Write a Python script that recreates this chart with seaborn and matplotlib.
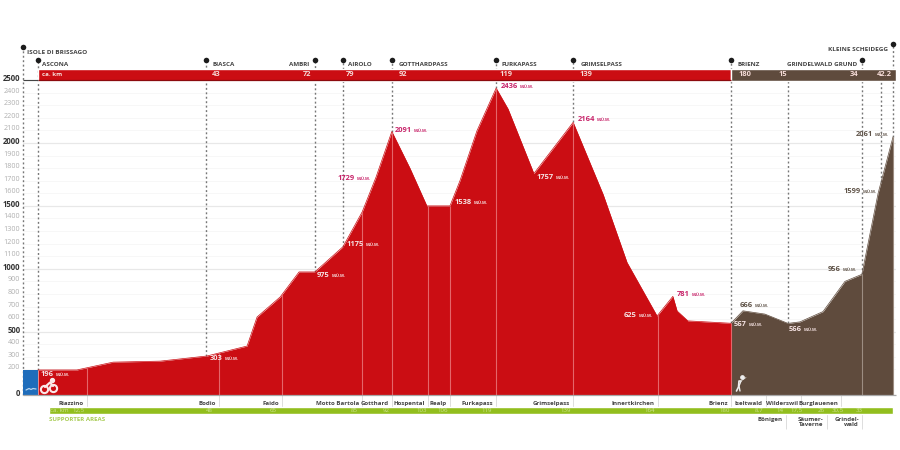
import numpy as np
import matplotlib
matplotlib.use('Agg')
import matplotlib.pyplot as plt
from matplotlib.transforms import ScaledTranslation
import seaborn as sns

# Profile values, km counted from Ascona (run continues after km 180)
swim_km = [-4.03, 0]
swim_elev = [196, 196]
bike_km = [0, 10.1, 19.5, 31.7, 43.9, 54.3, 56.9, 62.9, 67.8, 71.9, 79.2, 84.2, 87.8, 91.9, 96.6, 101, 107,
           109.6, 114, 119, 122.1, 128.8, 139, 146.8, 153, 160.8, 164.9, 166, 168.8, 180]
bike_elev = [196, 196, 258, 266, 307, 386, 617, 776, 975, 975, 1175, 1452, 1729, 2091, 1800, 1500, 1500,
             1700, 2096, 2436, 2270, 1757, 2164, 1590, 1050, 625, 781, 665, 586, 567]
run_km = [180, 183.1, 188.8, 194.8, 197.9, 203.9, 209.6, 214, 218.2, 222.1]
run_elev = [567, 666, 640, 566, 578, 660, 900, 956, 1599, 2050]

# Elevation labels
height_text = ['196', '303', '975', '1175', '1729', '2091', '1538', '2436', '1757', '2164', '625', '781',
               '567', '666', '566', '956', '1599', '2061']
height_y = [375, 359, 276, 245, 179, 131, 203, 87, 178, 120, 316, 295, 325, 306, 330, 270, 192, 135]
height_x = [41, 210, 317, 347, 338, 395, 455, 501, 537, 578, 624, 677, 734, 740, 789, 828, 844, 856]
height_col = ['w', 'w', 'w', 'w', 'p', 'p', 'w', 'p', 'w', 'p', 'w', 'p', 'w', 'b', 'w', 'b', 'b', 'b']

# Stations on the top bar
top_names = ['ASCONA', 'BIASCA', 'AMBRI', 'AIROLO', 'GOTTHARDPASS', 'FURKAPASS', 'GRIMSELPASS', 'BRIENZ', 'GRINDELWALD GRUND']
top_km = [0, 43.6, 71.9, 79.2, 91.9, 119, 139, 180, 214]
top_bar_text = ['ca. km', '43', '72', '79', '92', '119', '139', '180', '15', '34', '42.2']
top_bar_x = [42, 212, 303, 346, 399, 500, 580, 739, 779, 850, 877]
dash_only_km = [194.8, 219]

# Stations below the profile
low_names = ['Riazzino', 'Bodio', 'Faido', 'Motto Bartola', 'Gotthard', 'Hospental', 'Realp', 'Furkapass',
             'Grimselpass', 'Innertkirchen', 'Brienz', 'Iseltwald', 'Wilderswil', 'Burglauenen']
low_km = [12.7, 47, 63.4, 84.2, 91.9, 101.3, 107, 119, 139, 161, 180, 189, 198.2, 208.6]
under_names = ['Bönigen', 'Säumer-\nTaverne', 'Grindel-\nwald']
under_km = [194.2, 204.9, 214]
green_text = ['ca. km', '12,5', '48', '65', '85', '92', '103', '106', '119', '139', '164', '180', '8,7', '14', '17,5', '26', '30,5', '33']
green_x = [50, 72, 206, 270, 351, 383, 416, 437, 481, 561, 645, 720, 755, 777, 791, 818, 832, 856]

y_ticks = [0] + list(range(200, 2600, 100))

RED = '#cb0d13'
BROWN = '#5f4b3d'
GREEN = '#92be1e'
BLUE = '#1f6dbb'
PINK = '#c8246a'
colors = {'w': '#f6e3e3', 'p': PINK, 'b': '#5f5348'}

sns.set_theme(style='white')
plt.rcParams['font.family'] = ['Open Sans', 'DejaVu Sans']

fig = plt.figure(figsize=(9, 4.5), dpi=100)
# 3.85 px per km and 0.1258 px per metre
ax = fig.add_axes([22.5 / 900, (450 - 394.6) / 450, (896 - 22.5) / 900, (394.6 - 30) / 450])
ax.set_xlim(-4.03, 222.86)
ax.set_ylim(0, 2898)
sns.despine(ax=ax, left=True, bottom=True)


def px_x(x):
    return (x - 38) / 3.85


def px_y(y):
    return (394.6 - y) / 0.1258


# grid + y labels
ax.set_yticks(y_ticks)
ax.set_yticklabels([str(v) for v in y_ticks])
ax.set_xticks([])
ax.yaxis.grid(True, zorder=0)
ax.tick_params(axis='y', length=0, pad=1.5)
shift = ScaledTranslation(0, 2.5 / 100, fig.dpi_scale_trans)
for tick, v in zip(ax.yaxis.get_major_ticks(), y_ticks):
    main = v % 500 == 0
    tick.gridline.set_color('#e8e8e8' if main else '#f7f7f7')
    tick.gridline.set_linewidth(0.9 if main else 0.7)
    tick.label1.set_fontsize(5.6 if main else 5.2)
    tick.label1.set_fontweight('bold' if main else 'normal')
    tick.label1.set_color('#333333' if main else '#b0b0b0')
    tick.label1.set_transform(tick.label1.get_transform() + shift)

# filled profile
ax.fill_between(swim_km, 0, swim_elev, color=BLUE, lw=0, zorder=3)
ax.fill_between(bike_km, 0, bike_elev, color=RED, lw=0, zorder=3)
ax.fill_between(run_km, 0, run_elev, color=BROWN, lw=0, zorder=3)
sns.lineplot(x=bike_km, y=bike_elev, color=RED, lw=0.5, ax=ax, zorder=3, sort=False)
sns.lineplot(x=run_km, y=run_elev, color=BROWN, lw=0.5, ax=ax, zorder=3, sort=False)

all_km = bike_km + run_km[1:]
all_elev = bike_elev + run_elev[1:]

# pale lines inside the profile, grey ticks below it
for km in low_km[:11] + [214, 222.1]:
    if km <= 180:
        ax.vlines(km, 0, np.interp(km, all_km, all_elev), color='#e4666a', lw=0.8, zorder=4)
    else:
        ax.vlines(km, 0, np.interp(km, all_km, all_elev), color='#9c8d82', lw=0.8, zorder=4)
ax.vlines(low_km, px_y(414), 0, color='#dddddd', lw=0.7, clip_on=False, zorder=1)
ax.vlines(under_km, px_y(429), px_y(414), color='#dddddd', lw=0.7, clip_on=False, zorder=1)

# baseline
ax.hlines(0, -4.03, 222.86, color='#a8a8a8', lw=0.9, clip_on=False, zorder=5)

# top bar
ax.barh((px_y(69.3) + px_y(80.7)) / 2, 180, height=px_y(69.3) - px_y(80.7), left=0, color=RED, zorder=6)
ax.barh((px_y(69.3) + px_y(80.7)) / 2, 222.86 - 180, height=px_y(69.3) - px_y(80.7), left=180, color=BROWN, zorder=6)
ax.hlines(px_y(80.5), 0, 180, color='#8c0a0e', lw=0.9, zorder=7)
ax.hlines(px_y(80.5), -4.03, 0, color='#444444', lw=0.8, zorder=7)
for t, x in zip(top_bar_text, top_bar_x):
    ax.text(px_x(x), px_y(74.5), t, color='#f6dcd8', fontsize=4.4 if t == 'ca. km' else 5.4, fontweight='bold',
            va='center', ha='left', zorder=8)

# dashed stems and dots
stem_km = [-4.03] + top_km + [222.1]
stem_top = [px_y(47), *[px_y(60)] * len(top_km), px_y(44)]
for km, top in zip(stem_km, stem_top):
    low = np.interp(km, all_km, all_elev) if km >= 0 else 0
    ax.vlines(km, low, top, color='#777777', lw=1.0, linestyles=(0, (1.4, 1.8)), clip_on=False, zorder=2)
for km in dash_only_km:
    ax.vlines(km, np.interp(km, all_km, all_elev), px_y(81), color='#777777', lw=1.0,
              linestyles=(0, (1.4, 1.8)), zorder=2)
sns.scatterplot(x=stem_km, y=stem_top, color='#1c1c1c', s=16, linewidth=0, ax=ax, clip_on=False, zorder=9)

# station names above the bar
top_dx = [4, 7, -6, 5, 7, 5, 7, 7, -5]
for name, km, dx in zip(top_names, top_km, top_dx):
    ax.annotate(name, (km, px_y(65)), xytext=(dx, 0), textcoords='offset pixels', color='#444444', fontsize=4.5,
                fontweight='bold', va='center', ha='left' if dx > 0 else 'right', annotation_clip=False)
ax.annotate('ISOLE DI BRISSAGO', (-4.03, px_y(52.5)), xytext=(4.5, 0), textcoords='offset pixels', color='#444444',
            fontsize=4.6, fontweight='bold', va='center', annotation_clip=False)
ax.annotate('KLEINE SCHEIDEGG', (222.1, px_y(50)), xytext=(-5, 0), textcoords='offset pixels', color='#444444',
            fontsize=4.6, fontweight='bold', va='center', ha='right', annotation_clip=False)

# elevation labels
for t, x, y, c in zip(height_text, height_x, height_y, height_col):
    ax.text(px_x(x), px_y(y), t, color=colors[c], fontsize=5.4, fontweight='bold', va='center', zorder=8)
    ax.text(px_x(x + len(t) * 3.9 + 3), px_y(y), 'M.Ü.M.', color=colors[c], fontsize=3.0, fontweight='bold',
            va='center', zorder=8)

# green bar
ax.barh((px_y(407) + px_y(414)) / 2, px_x(893) - px_x(49), height=px_y(407) - px_y(414), left=px_x(49),
        color=GREEN, clip_on=False, zorder=6)
for t, x in zip(green_text, green_x):
    ax.text(px_x(x), px_y(410.5), t, color='#cfe396', fontsize=4.4, va='center', zorder=8)
ax.text(px_x(49), px_y(419), 'SUPPORTER AREAS', color='#a9cc55', fontsize=4.4, fontweight='bold', va='center')

# names below the profile
for name, km in zip(low_names, low_km):
    ax.annotate(name, (km, px_y(403)), xytext=(-3, 0), textcoords='offset pixels', ha='right', va='center',
                color='#444444', fontsize=4.4, fontweight='bold', annotation_clip=False)
for name, km in zip(under_names, under_km):
    ax.annotate(name, (km, px_y(416.5)), xytext=(-3, 0), textcoords='offset pixels', ha='right', va='top',
                color='#444444', fontsize=4.4, fontweight='bold', linespacing=1.0, annotation_clip=False)

# small icons: wave, bike, runner
ax.plot([px_x(x) for x in (26, 29, 31, 33, 36)], [px_y(y) for y in (390, 388.5, 389.5, 388.5, 389)],
        color='#b8d4ee', lw=0.9, zorder=8)
ax.plot([px_x(44), px_x(53)], [px_y(389), px_y(388)], 'o', ms=5.2, mfc='#cb0d13', mec='#fbe9e9', mew=1.5, zorder=8)
ax.plot([px_x(45), px_x(50), px_x(53)], [px_y(387), px_y(382.5), px_y(386)], color='#fbe9e9', lw=1.6, zorder=8)
ax.plot(px_x(52), px_y(380.5), 'o', ms=2.8, color='#fbe9e9', zorder=8)
ax.plot([px_x(736.5), px_x(738.5), px_x(739), px_x(741)], [px_y(391), px_y(387), px_y(381), px_y(381)],
        color='#eeeeee', lw=1.2, zorder=8)
ax.plot([px_x(741), px_x(739), px_x(740)], [px_y(381), px_y(386), px_y(391)], color='#eeeeee', lw=1.0, zorder=8)
ax.plot([px_x(741), px_x(746)], [px_y(381), px_y(377.5)], color='#cfc8c2', lw=0.6, zorder=8)
ax.plot(px_x(742), px_y(377.5), 'o', ms=2.4, color='#eeeeee', zorder=8)

fig.savefig('out.png', dpi=100)
